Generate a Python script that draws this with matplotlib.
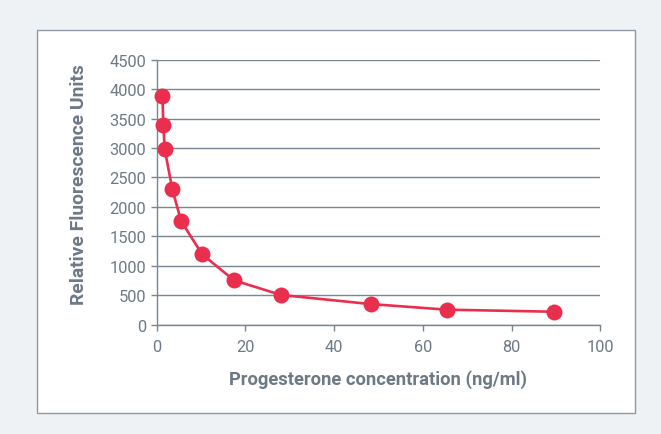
import matplotlib.pyplot as plt
from matplotlib.patches import Rectangle

# data
conc = [1.3, 1.5, 1.8, 3.5, 5.5, 10.2, 17.4, 28.0, 48.3, 65.5, 89.6]
rfu = [3880, 3390, 2985, 2305, 1760, 1200, 755, 505, 350, 255, 220]
x_ticks = [0, 20, 40, 60, 80, 100]
y_ticks = [0, 500, 1000, 1500, 2000, 2500, 3000, 3500, 4000, 4500]

red = '#EA2E4D'
grid_gray = '#7A8591'
text_gray = '#6E7986'

plt.rcParams['font.family'] = ['Roboto', 'DejaVu Sans']

fig = plt.figure(figsize=(6.61, 4.35), dpi=100)
fig.patch.set_facecolor('#EEF2F5')

# white panel with a thin border, kept under the axes
fig.patches.append(Rectangle((37 / 661, 1 - 414 / 435), (635 - 37) / 661, (414 - 31) / 435,
                             transform=fig.transFigure, facecolor='white',
                             edgecolor='#8E98A3', linewidth=1.0, zorder=-10))

ax = fig.add_axes([156.7 / 661, 1 - 325.7 / 435, (600.2 - 156.7) / 661, (325.7 - 60.7) / 435])
ax.set_facecolor('none')

ax.plot(conc, rfu, color=red, linewidth=1.9, marker='o', markersize=11.5,
        markeredgewidth=0, zorder=3, clip_on=False)

ax.set_xlim(0, 100)
ax.set_ylim(0, 4500)
ax.set_xticks(x_ticks)
ax.set_yticks(y_ticks)

ax.yaxis.grid(True, color=grid_gray, linewidth=1.0)
ax.set_axisbelow(True)

for side in ['top', 'right']:
    ax.spines[side].set_visible(False)
for side in ['left', 'bottom']:
    ax.spines[side].set_color(grid_gray)
    ax.spines[side].set_linewidth(1.0)

ax.tick_params(axis='both', colors=grid_gray, length=4.5, width=1.0,
               labelsize=11.8, labelcolor=text_gray)
ax.tick_params(axis='y', pad=3)
ax.tick_params(axis='x', pad=6)

ax.set_ylabel('Relative Fluorescence Units', fontsize=13.9, fontweight='bold',
              color=text_gray)
# label sits a bit above the middle of the axis in the original
ax.yaxis.set_label_coords(-0.154, 0.531)
ax.set_xlabel('Progesterone concentration (ng/ml)', fontsize=13.2, fontweight='bold',
              color=text_gray, labelpad=11)

plt.savefig('out.png', dpi=100, facecolor=fig.get_facecolor())
plt.close()
